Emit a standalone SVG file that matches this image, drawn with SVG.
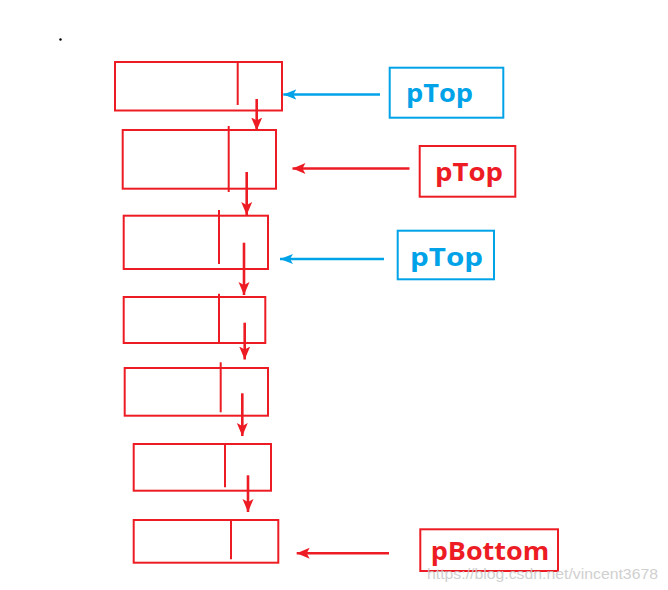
<svg xmlns="http://www.w3.org/2000/svg" width="668" height="590" viewBox="0 0 668 590">
<defs>
<style>
.node{fill:none;stroke:#ED1C24;stroke-width:2}
.div{stroke:#ED1C24;stroke-width:2}
.down{stroke:#ED1C24;stroke-width:2.6;fill:none;marker-end:url(#ar)}
.lr{stroke:#ED1C24;stroke-width:2.6;fill:none;marker-end:url(#ar)}
.lb{stroke:#00A2E8;stroke-width:2.6;fill:none;marker-end:url(#ab)}
.lblB{fill:none;stroke:#00A2E8;stroke-width:2}
.lblR{fill:none;stroke:#ED1C24;stroke-width:2}
.tB{fill:#00A2E8;font-family:"Open Sans","Liberation Sans",sans-serif;font-weight:bold;font-size:25px}
.tR{fill:#ED1C24;font-family:"Open Sans","Liberation Sans",sans-serif;font-weight:bold;font-size:25px}
.wm{fill:#c8c8c8;font-family:"Liberation Sans",Arial,sans-serif;font-size:15px;opacity:0.85}
</style>
<marker id="ar" markerUnits="userSpaceOnUse" markerWidth="14" markerHeight="14" viewBox="0 0 14 14" refX="13" refY="7" orient="auto"><path d="M0,1.5 L13,7 L0,12.5 L3,7 Z" fill="#ED1C24"/></marker>
<marker id="ab" markerUnits="userSpaceOnUse" markerWidth="14" markerHeight="14" viewBox="0 0 14 14" refX="13" refY="7" orient="auto"><path d="M0,2 L13,7 L0,12 L3,7 Z" fill="#00A2E8"/></marker>
</defs>
<rect width="668" height="590" fill="#ffffff"/>
<circle cx="60.5" cy="39.5" r="1.2" fill="#000"/>

<g id="node1"><rect class="node" x="115" y="62" width="167" height="48.5"/><line class="div" x1="237.7" y1="62" x2="237.7" y2="105"/></g>
<g id="node2"><rect class="node" x="122.7" y="130" width="153.3" height="58.7"/><line class="div" x1="228.7" y1="126" x2="228.7" y2="192"/></g>
<g id="node3"><rect class="node" x="123.7" y="215.7" width="144.3" height="53.3"/><line class="div" x1="219" y1="210" x2="219" y2="264"/></g>
<g id="node4"><rect class="node" x="123.7" y="297" width="141.6" height="46"/><line class="div" x1="219" y1="293.7" x2="219" y2="343"/></g>
<g id="node5"><rect class="node" x="124.7" y="368" width="143.3" height="47.7"/><line class="div" x1="220.7" y1="362.3" x2="220.7" y2="412.3"/></g>
<g id="node6"><rect class="node" x="133.7" y="444" width="137.3" height="46.7"/><line class="div" x1="225" y1="444" x2="225" y2="487.3"/></g>
<g id="node7"><rect class="node" x="133.7" y="520" width="144.6" height="42.7"/><line class="div" x1="231" y1="520" x2="231" y2="559.3"/></g>

<g id="label1"><rect class="lblB" x="389.7" y="67.7" width="113.6" height="50"/><text class="tB" x="406" y="102" textLength="67" lengthAdjust="spacingAndGlyphs">pTop</text></g>
<g id="label2"><rect class="lblR" x="419.7" y="146" width="95.6" height="50.7"/><text class="tR" x="435" y="181" textLength="68" lengthAdjust="spacingAndGlyphs">pTop</text></g>
<g id="label3"><rect class="lblB" x="397.7" y="230.7" width="96.3" height="48.6"/><text class="tB" x="410" y="266" textLength="73" lengthAdjust="spacingAndGlyphs">pTop</text></g>
<g id="label4"><rect class="lblR" x="420.3" y="529.3" width="137.7" height="41.7"/><text class="tR" x="430.7" y="559.5" textLength="118.6" lengthAdjust="spacingAndGlyphs">pBottom</text></g>

<g id="connectors">
<line class="down" x1="256.7" y1="99" x2="256.7" y2="130.5"/>
<line class="down" x1="246.7" y1="172" x2="246.7" y2="215"/>
<line class="down" x1="244" y1="242.7" x2="244" y2="295"/>
<line class="down" x1="244.7" y1="322.7" x2="244.7" y2="359.5"/>
<line class="down" x1="242.3" y1="393.3" x2="242.3" y2="436"/>
<line class="down" x1="248" y1="475.3" x2="248" y2="512"/>
<line class="lb" x1="380" y1="94.5" x2="283.3" y2="94.5"/>
<line class="lr" x1="409.5" y1="168.5" x2="292.5" y2="168.5"/>
<line class="lb" x1="384" y1="259" x2="280" y2="259"/>
<line class="lr" x1="389" y1="553.3" x2="296.7" y2="553.3"/>
</g>
<text class="wm" x="427" y="579" textLength="231" lengthAdjust="spacingAndGlyphs">https://blog.csdn.net/vincent3678</text>
</svg>
